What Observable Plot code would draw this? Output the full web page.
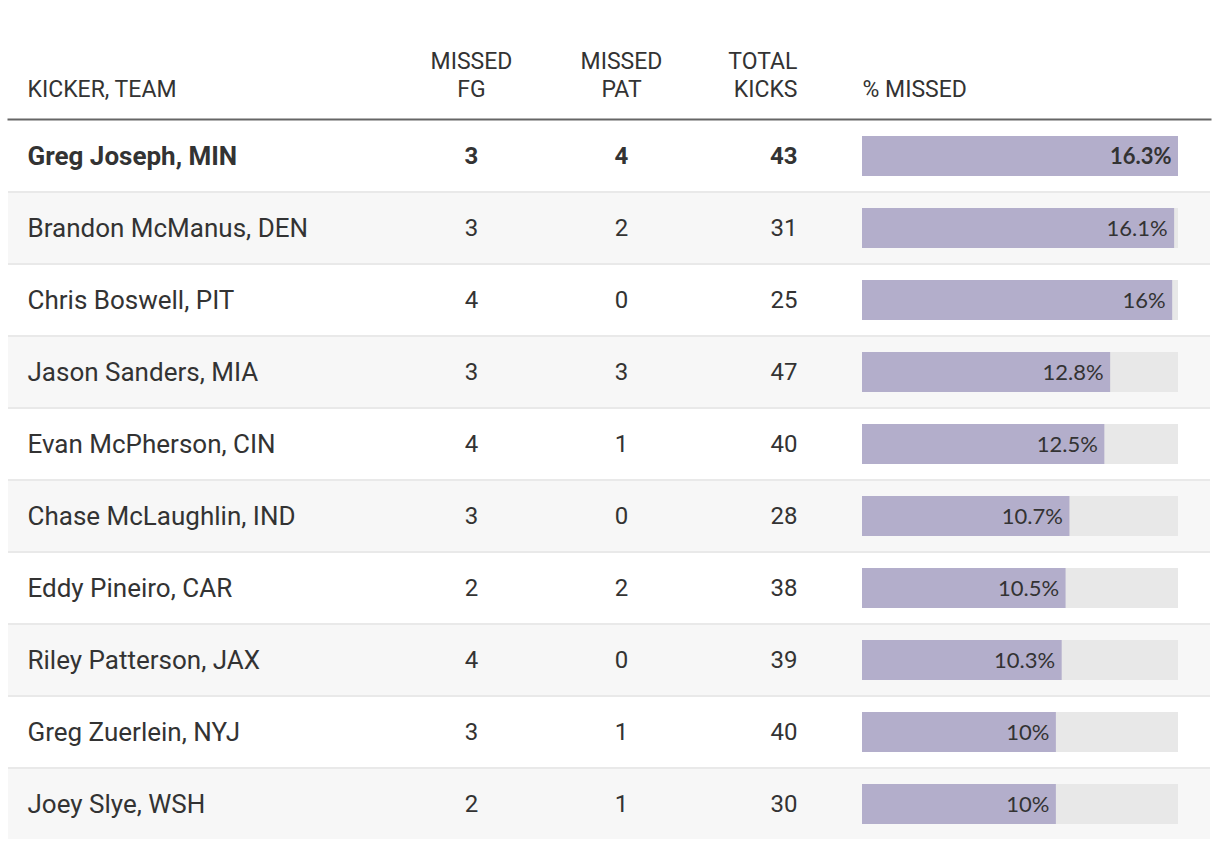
<!DOCTYPE html>
<html>
<head>
<meta charset="utf-8">
<script src="https://cdn.jsdelivr.net/npm/d3@7"></script>
<script src="https://cdn.jsdelivr.net/npm/@observablehq/plot@0.6"></script>
<style>
  html, body { margin: 0; padding: 0; background: #fff; }
  #chart svg { display: block; }
</style>
</head>
<body>
<div id="chart"></div>
<script>
const kickers = ["Greg Joseph, MIN", "Brandon McManus, DEN", "Chris Boswell, PIT", "Jason Sanders, MIA", "Evan McPherson, CIN", "Chase McLaughlin, IND", "Eddy Pineiro, CAR", "Riley Patterson, JAX", "Greg Zuerlein, NYJ", "Joey Slye, WSH"];
const missedFG = [3, 3, 4, 3, 4, 3, 2, 4, 3, 2];
const missedPAT = [4, 2, 0, 3, 1, 0, 2, 0, 1, 1];
const totalKicks = [43, 31, 25, 47, 40, 28, 38, 39, 40, 30];
const pctMissed = [16.3, 16.1, 16, 12.8, 12.5, 10.7, 10.5, 10.3, 10, 10];
const headerKicker = "KICKER, TEAM";
const headerFG = "MISSED\nFG";
const headerPAT = "MISSED\nPAT";
const headerTotal = "TOTAL\nKICKS";
const headerPct = "% MISSED";

const rows = kickers.map((name, i) => ({
  name, fg: missedFG[i], pat: missedPAT[i], total: totalKicks[i], pct: pctMissed[i], i
}));
const maxPct = d3.max(pctMissed);

const textColor = "#333";
const font = "Roboto, 'Liberation Sans', sans-serif";

function colText(key, opts, bold) {
  return Plot.text(rows.filter(d => bold ? d.i === 0 : d.i !== 0), {
    y: "name", text: key, frameAnchor: "left", fill: textColor,
    fontWeight: bold ? "bold" : "normal", fontFamily: font, dy: 1, ...opts
  });
}

const colOpts = {
  name: {dx: 19, textAnchor: "start", fontSize: 26},
  fg: {dx: 463, textAnchor: "middle", fontSize: 24},
  pat: {dx: 613, textAnchor: "middle", fontSize: 24},
  total: {dx: 789, textAnchor: "end", fontSize: 24}
};

const headerMarks = [
  [headerKicker, {dx: 19, textAnchor: "start"}],
  [headerFG, {dx: 463, textAnchor: "middle"}],
  [headerPAT, {dx: 613, textAnchor: "middle"}],
  [headerTotal, {dx: 789, textAnchor: "end"}],
  [headerPct, {dx: 854, textAnchor: "start"}]
].map(([t, o]) => Plot.text([t], {
  text: d => d, frameAnchor: "top-left", lineAnchor: "bottom", dy: -23,
  lineHeight: 1.2, fontSize: 23, fill: textColor, fontFamily: font, ...o
}));

const chart = Plot.plot({
  width: 1220,
  height: 852,
  marginTop: 119,
  marginBottom: 13,
  marginLeft: 8,
  marginRight: 10,
  style: {fontFamily: font, background: "#fff"},
  x: {domain: [0, maxPct], range: [862, 1178], axis: null},
  y: {domain: kickers, padding: 0, axis: null},
  marks: [
    Plot.cell(rows, {y: "name", fill: d => d.i % 2 ? "#f7f7f7" : "#ffffff", inset: 0}),
    Plot.cell(rows.filter(d => d.i > 0), {y: "name", fill: "#e9e9e9", inset: 0, insetBottom: 70}),
    Plot.barX(rows, {y: "name", x1: 0, x2: maxPct, fill: "#e8e8e8", insetTop: 17, insetBottom: 15}),
    Plot.barX(rows, {y: "name", x: "pct", fill: "#b3aecb", insetTop: 17, insetBottom: 15}),
    Plot.text(rows.filter(d => d.i === 0), {y: "name", x: "pct", text: d => d.pct + "%", textAnchor: "end", dx: -7, dy: 1, fill: textColor, fontSize: 22, fontWeight: "bold", fontFamily: "Lato, sans-serif"}),
    Plot.text(rows.filter(d => d.i !== 0), {y: "name", x: "pct", text: d => d.pct + "%", textAnchor: "end", dx: -7, dy: 1, fill: textColor, fontSize: 22, fontFamily: "Lato, sans-serif"}),
    ...["name", "fg", "pat", "total"].flatMap(k => [colText(k, colOpts[k], true), colText(k, colOpts[k], false)]),
    Plot.frame({anchor: "top", stroke: "#666", strokeWidth: 2}),
    ...headerMarks
  ]
});
document.getElementById("chart").append(chart);
</script>
</body>
</html>
